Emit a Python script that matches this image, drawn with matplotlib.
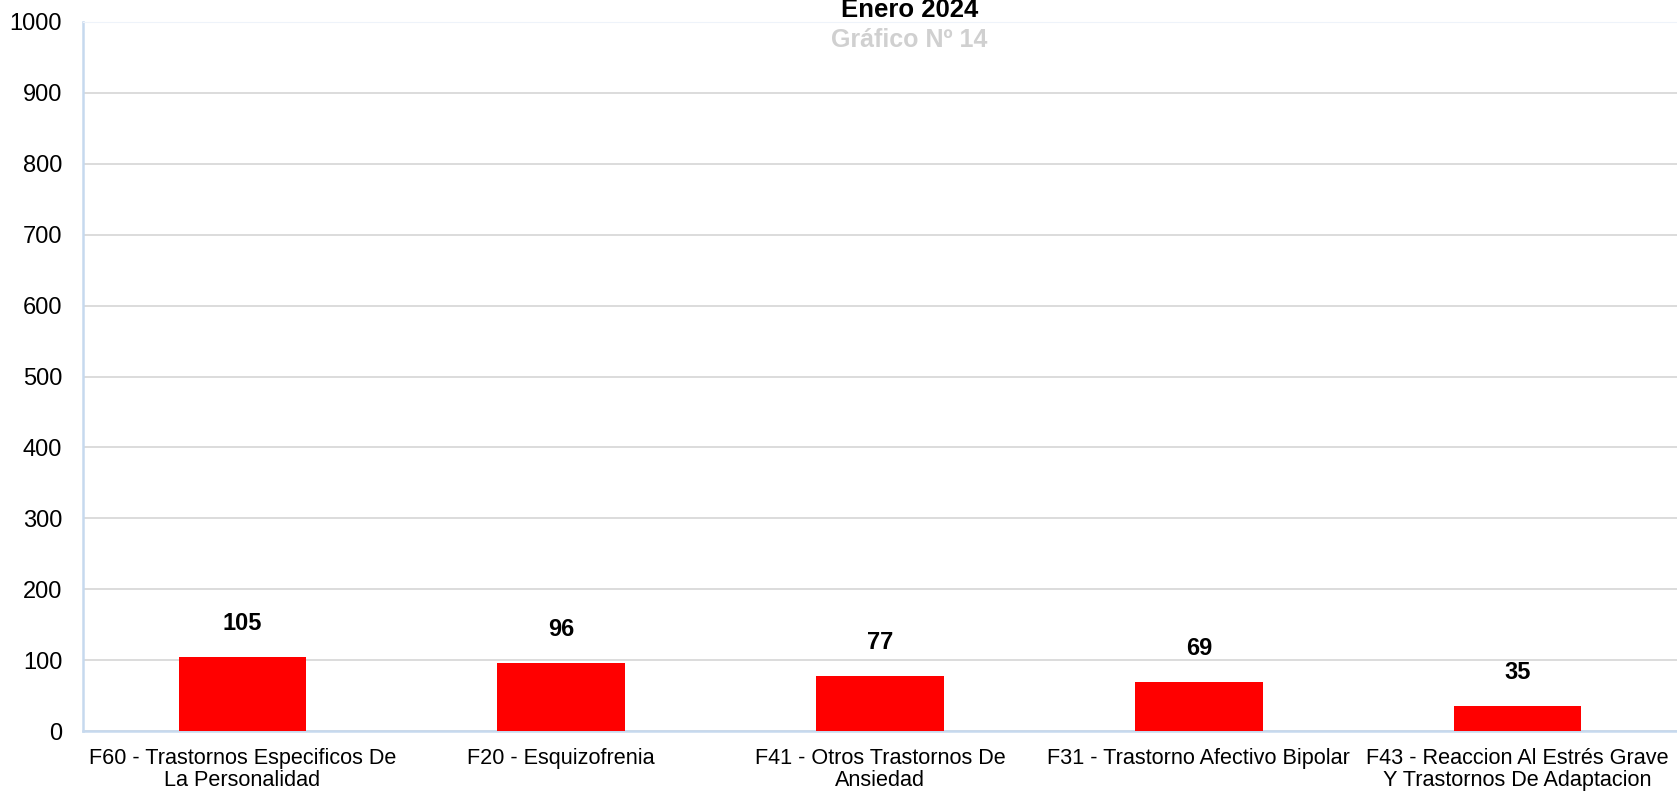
import matplotlib
matplotlib.use("Agg")
import matplotlib.pyplot as plt

plt.rcParams['font.family'] = ['Liberation Sans', 'DejaVu Sans']

categories = [
    "F60 - Trastornos Especificos De\nLa Personalidad",
    "F20 - Esquizofrenia",
    "F41 - Otros Trastornos De\nAnsiedad",
    "F31 - Trastorno Afectivo Bipolar",
    "F43 - Reaccion Al Estrés Grave\nY Trastornos De Adaptacion",
]
values = [105, 96, 77, 69, 35]
yticks = [0, 100, 200, 300, 400, 500, 600, 700, 800, 900, 1000]

W, H = 1677, 791
fig = plt.figure(figsize=(W / 100, H / 100), dpi=100)
left, bottom, top = 83, 731, 22
ax = fig.add_axes([left / W, 1 - bottom / H, (W - left) / W, (bottom - top) / H])

x = list(range(len(categories)))
ax.bar(x, values, width=0.40, color="#ff0000", zorder=3)
ax.set_xlim(-0.5, len(categories) - 0.5)
ax.set_ylim(0, 1000)
ax.set_yticks(yticks)
ax.set_yticklabels([str(t) for t in yticks], fontsize=17)
ax.set_xticks(x)
ax.set_xticklabels(categories, fontsize=15.6, linespacing=1.08)
ax.tick_params(axis='both', length=0, colors='black')
ax.tick_params(axis='y', pad=15)
ax.tick_params(axis='x', pad=12)
ax.grid(axis='y', color='#d9d9d9', linewidth=1.3, zorder=0)

for s in ['left', 'bottom']:
    ax.spines[s].set_color('#c6d9ee')
    ax.spines[s].set_linewidth(1.8)
ax.spines['top'].set_color('#eef3fa')
ax.spines['right'].set_visible(False)

for xi, v in zip(x, values):
    ax.annotate(str(v), (xi, v), xytext=(0, 19.4), textcoords='offset points',
                ha='center', va='baseline', fontsize=17, fontweight='bold')

fig.text(909.5 / W, 1 - 17 / H, "Enero 2024", ha='center', va='baseline',
         fontsize=18.5, fontweight='bold', color='black')
fig.text(909.5 / W, 1 - 47 / H, "Gráfico Nº 14", ha='center', va='baseline',
         fontsize=18, fontweight='bold', color='#d0d0d0')

fig.savefig("out.png", dpi=100)
